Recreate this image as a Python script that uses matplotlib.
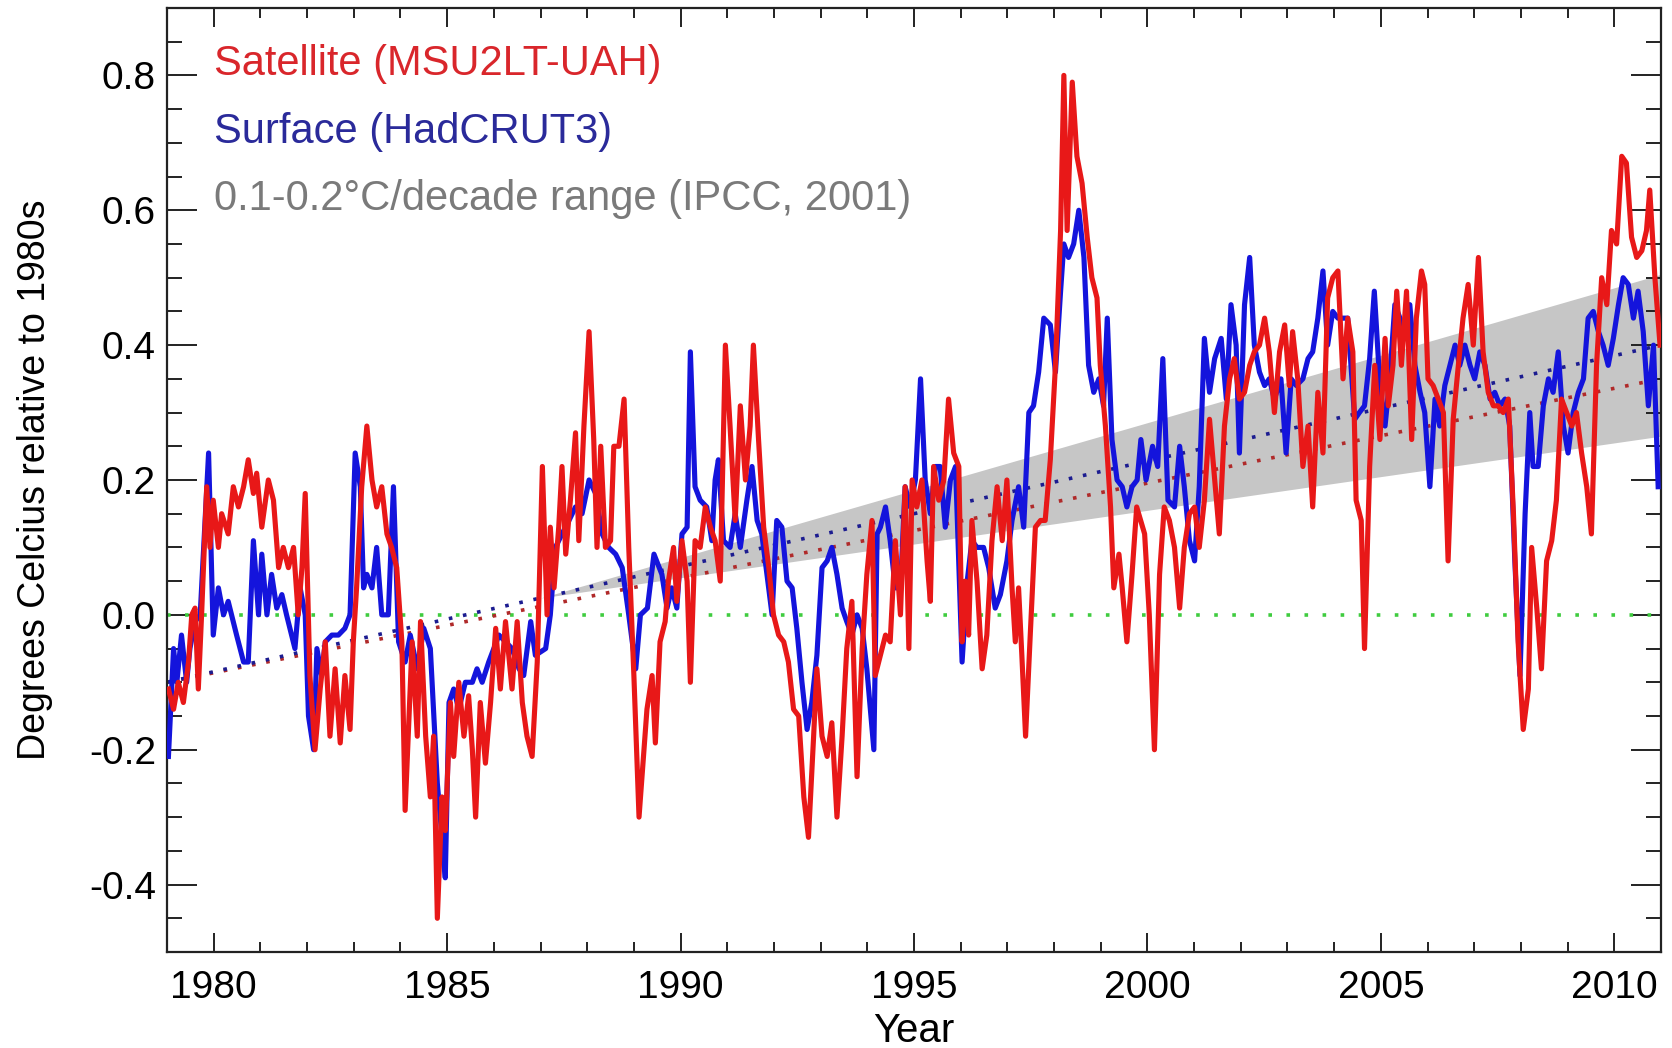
import numpy as np
import matplotlib
matplotlib.use('Agg')
import matplotlib.pyplot as plt
from matplotlib.ticker import MultipleLocator, FormatStrFormatter

# satellite lower troposphere (MSU2LT-UAH)
sat_years = [1979.03, 1979.14, 1979.24, 1979.35, 1979.46, 1979.53, 1979.60, 1979.67, 1979.74, 1979.85,
             1979.92, 1979.99, 1980.10, 1980.17, 1980.31, 1980.42, 1980.53, 1980.64, 1980.74, 1980.85,
             1980.92, 1981.03, 1981.17, 1981.28, 1981.39, 1981.49, 1981.60, 1981.71, 1981.81, 1981.89,
             1981.96, 1982.06, 1982.17, 1982.28, 1982.39, 1982.49, 1982.60, 1982.71, 1982.81, 1982.92,
             1982.99, 1983.06, 1983.17, 1983.28, 1983.39, 1983.49, 1983.60, 1983.71, 1983.81, 1983.92,
             1984.03, 1984.10, 1984.25, 1984.36, 1984.43, 1984.54, 1984.64, 1984.71, 1984.79, 1984.89,
             1984.96, 1985.07, 1985.14, 1985.25, 1985.36, 1985.46, 1985.54, 1985.61, 1985.71, 1985.82,
             1985.93, 1986.04, 1986.14, 1986.25, 1986.39, 1986.50, 1986.61, 1986.71, 1986.82, 1986.93,
             1987.04, 1987.14, 1987.21, 1987.29, 1987.39, 1987.46, 1987.54, 1987.64, 1987.75, 1987.82,
             1987.93, 1988.04, 1988.14, 1988.21, 1988.29, 1988.39, 1988.50, 1988.57, 1988.68, 1988.79,
             1988.89, 1989.00, 1989.11, 1989.28, 1989.39, 1989.46, 1989.56, 1989.67, 1989.74, 1989.85,
             1989.92, 1990.03, 1990.14, 1990.21, 1990.31, 1990.42, 1990.53, 1990.64, 1990.74, 1990.85,
             1990.96, 1991.06, 1991.17, 1991.28, 1991.39, 1991.49, 1991.56, 1991.67, 1991.78, 1991.89,
             1991.99, 1992.10, 1992.21, 1992.31, 1992.42, 1992.53, 1992.64, 1992.74, 1992.85, 1992.92,
             1993.03, 1993.14, 1993.24, 1993.35, 1993.46, 1993.56, 1993.67, 1993.78, 1993.89, 1993.99,
             1994.10, 1994.17, 1994.28, 1994.39, 1994.49, 1994.60, 1994.71, 1994.81, 1994.89, 1994.96,
             1995.06, 1995.17, 1995.28, 1995.35, 1995.42, 1995.53, 1995.64, 1995.74, 1995.85, 1995.96,
             1996.03, 1996.10, 1996.17, 1996.24, 1996.35, 1996.46, 1996.56, 1996.67, 1996.78, 1996.89,
             1996.99, 1997.10, 1997.17, 1997.24, 1997.31, 1997.39, 1997.49, 1997.60, 1997.71, 1997.81,
             1997.92, 1998.03, 1998.14, 1998.21, 1998.28, 1998.39, 1998.49, 1998.60, 1998.71, 1998.81,
             1998.92, 1998.99, 1999.10, 1999.21, 1999.28, 1999.39, 1999.46, 1999.56, 1999.67, 1999.77,
             1999.94, 2000.04, 2000.15, 2000.26, 2000.36, 2000.47, 2000.58, 2000.69, 2000.79, 2000.90,
             2001.01, 2001.11, 2001.22, 2001.33, 2001.44, 2001.54, 2001.65, 2001.76, 2001.86, 2001.97,
             2002.08, 2002.19, 2002.29, 2002.40, 2002.51, 2002.61, 2002.72, 2002.83, 2002.94, 2003.04,
             2003.11, 2003.22, 2003.33, 2003.44, 2003.54, 2003.65, 2003.76, 2003.86, 2003.97, 2004.08,
             2004.19, 2004.29, 2004.40, 2004.47, 2004.58, 2004.65, 2004.76, 2004.87, 2004.98, 2005.09,
             2005.16, 2005.26, 2005.34, 2005.44, 2005.55, 2005.66, 2005.76, 2005.87, 2005.94, 2006.01,
             2006.12, 2006.23, 2006.34, 2006.44, 2006.55, 2006.66, 2006.76, 2006.87, 2006.98, 2007.09,
             2007.19, 2007.30, 2007.41, 2007.51, 2007.62, 2007.73, 2007.84, 2007.94, 2008.05, 2008.16,
             2008.23, 2008.34, 2008.44, 2008.55, 2008.66, 2008.76, 2008.87, 2008.98, 2009.09, 2009.19,
             2009.30, 2009.41, 2009.51, 2009.62, 2009.73, 2009.84, 2009.94, 2010.05, 2010.16, 2010.26,
             2010.37, 2010.48, 2010.59, 2010.69, 2010.76, 2010.87, 2010.98]
sat_anom = [-0.11, -0.14, -0.10, -0.13, -0.07, 0.00, 0.01, -0.11, 0.00, 0.19,
            0.10, 0.17, 0.10, 0.15, 0.12, 0.19, 0.16, 0.19, 0.23, 0.18,
            0.21, 0.13, 0.20, 0.17, 0.07, 0.10, 0.07, 0.10, 0.00, 0.07,
            0.18, -0.09, -0.20, -0.11, -0.04, -0.18, -0.08, -0.19, -0.09, -0.17,
            -0.04, 0.04, 0.19, 0.28, 0.20, 0.16, 0.19, 0.12, 0.10, 0.07,
            -0.04, -0.29, -0.04, -0.18, -0.01, -0.18, -0.27, -0.18, -0.45, -0.27,
            -0.32, -0.13, -0.21, -0.10, -0.18, -0.12, -0.20, -0.30, -0.13, -0.22,
            -0.13, -0.02, -0.11, -0.01, -0.11, -0.01, -0.13, -0.18, -0.21, -0.07,
            0.22, 0.00, 0.13, 0.04, 0.13, 0.22, 0.09, 0.17, 0.27, 0.11,
            0.28, 0.42, 0.26, 0.10, 0.25, 0.10, 0.11, 0.25, 0.25, 0.32,
            0.10, -0.09, -0.30, -0.14, -0.09, -0.19, -0.04, -0.01, 0.05, 0.10,
            0.02, 0.11, 0.05, -0.10, 0.11, 0.10, 0.16, 0.13, 0.11, 0.05,
            0.40, 0.28, 0.14, 0.31, 0.20, 0.28, 0.40, 0.26, 0.13, 0.07,
            0.00, -0.03, -0.04, -0.07, -0.14, -0.15, -0.27, -0.33, -0.18, -0.08,
            -0.18, -0.21, -0.16, -0.30, -0.18, -0.05, 0.02, -0.24, -0.05, 0.06,
            0.14, -0.09, -0.06, -0.03, -0.04, 0.11, 0.00, 0.19, -0.05, 0.20,
            0.16, 0.20, 0.08, 0.02, 0.22, 0.17, 0.20, 0.32, 0.24, 0.22,
            -0.04, 0.05, -0.03, 0.14, 0.05, -0.08, -0.03, 0.11, 0.19, 0.11,
            0.20, 0.04, -0.04, 0.04, -0.06, -0.18, -0.03, 0.13, 0.14, 0.14,
            0.23, 0.37, 0.57, 0.80, 0.57, 0.79, 0.68, 0.64, 0.56, 0.50,
            0.47, 0.37, 0.28, 0.16, 0.04, 0.09, 0.04, -0.04, 0.06, 0.16,
            0.12, 0.00, -0.20, 0.06, 0.16, 0.14, 0.10, 0.01, 0.10, 0.15,
            0.16, 0.10, 0.17, 0.29, 0.20, 0.12, 0.28, 0.35, 0.38, 0.32,
            0.33, 0.37, 0.39, 0.40, 0.44, 0.39, 0.30, 0.39, 0.43, 0.34,
            0.42, 0.35, 0.22, 0.28, 0.16, 0.33, 0.24, 0.47, 0.50, 0.51,
            0.35, 0.44, 0.39, 0.17, 0.14, -0.05, 0.22, 0.37, 0.26, 0.41,
            0.31, 0.37, 0.48, 0.37, 0.48, 0.26, 0.44, 0.51, 0.49, 0.35,
            0.34, 0.32, 0.30, 0.08, 0.29, 0.37, 0.44, 0.49, 0.40, 0.53,
            0.39, 0.33, 0.31, 0.31, 0.30, 0.32, 0.15, -0.04, -0.17, -0.11,
            0.10, 0.01, -0.08, 0.08, 0.11, 0.17, 0.32, 0.30, 0.28, 0.30,
            0.24, 0.19, 0.12, 0.37, 0.50, 0.46, 0.57, 0.55, 0.68, 0.67,
            0.56, 0.53, 0.54, 0.57, 0.63, 0.50, 0.40]

# surface (HadCRUT3)
sfc_years = [1979.03, 1979.14, 1979.21, 1979.31, 1979.42, 1979.49, 1979.60, 1979.71, 1979.89, 1979.99,
             1980.10, 1980.21, 1980.31, 1980.49, 1980.64, 1980.74, 1980.85, 1980.96, 1981.03, 1981.14,
             1981.24, 1981.35, 1981.46, 1981.56, 1981.74, 1981.85, 1981.96, 1982.03, 1982.14, 1982.21,
             1982.31, 1982.39, 1982.53, 1982.67, 1982.81, 1982.92, 1983.03, 1983.14, 1983.21, 1983.28,
             1983.39, 1983.49, 1983.60, 1983.74, 1983.85, 1983.96, 1984.10, 1984.21, 1984.36, 1984.50,
             1984.64, 1984.79, 1984.89, 1984.96, 1985.04, 1985.14, 1985.25, 1985.39, 1985.54, 1985.64,
             1985.75, 1985.89, 1986.00, 1986.11, 1986.25, 1986.39, 1986.54, 1986.64, 1986.79, 1986.89,
             1987.11, 1987.21, 1987.32, 1987.46, 1987.61, 1987.75, 1987.89, 1988.04, 1988.18, 1988.32,
             1988.46, 1988.61, 1988.75, 1988.89, 1989.04, 1989.14, 1989.29, 1989.43, 1989.60, 1989.71,
             1989.81, 1989.92, 1990.03, 1990.14, 1990.21, 1990.31, 1990.42, 1990.56, 1990.67, 1990.74,
             1990.81, 1990.92, 1991.06, 1991.17, 1991.28, 1991.42, 1991.53, 1991.64, 1991.74, 1991.85,
             1991.96, 1992.06, 1992.17, 1992.28, 1992.39, 1992.49, 1992.60, 1992.71, 1992.81, 1992.92,
             1993.03, 1993.14, 1993.24, 1993.35, 1993.46, 1993.56, 1993.67, 1993.78, 1993.89, 1993.99,
             1994.14, 1994.21, 1994.28, 1994.39, 1994.49, 1994.60, 1994.71, 1994.81, 1994.92, 1995.03,
             1995.14, 1995.24, 1995.35, 1995.46, 1995.56, 1995.67, 1995.78, 1995.89, 1996.03, 1996.14,
             1996.24, 1996.35, 1996.49, 1996.60, 1996.74, 1996.85, 1996.99, 1997.10, 1997.24, 1997.35,
             1997.46, 1997.56, 1997.67, 1997.78, 1997.92, 1998.03, 1998.14, 1998.21, 1998.31, 1998.42,
             1998.53, 1998.64, 1998.74, 1998.85, 1998.96, 1999.06, 1999.14, 1999.24, 1999.35, 1999.46,
             1999.56, 1999.67, 1999.78, 1999.86, 1999.97, 2000.11, 2000.22, 2000.33, 2000.44, 2000.58,
             2000.69, 2000.79, 2000.90, 2001.01, 2001.11, 2001.22, 2001.33, 2001.44, 2001.58, 2001.69,
             2001.79, 2001.90, 2001.97, 2002.08, 2002.19, 2002.29, 2002.40, 2002.51, 2002.61, 2002.72,
             2002.86, 2002.97, 2003.08, 2003.19, 2003.33, 2003.44, 2003.54, 2003.65, 2003.76, 2003.86,
             2003.97, 2004.08, 2004.19, 2004.29, 2004.44, 2004.54, 2004.65, 2004.76, 2004.86, 2004.98,
             2005.09, 2005.19, 2005.30, 2005.41, 2005.51, 2005.62, 2005.73, 2005.84, 2005.94, 2006.05,
             2006.16, 2006.26, 2006.37, 2006.48, 2006.59, 2006.69, 2006.80, 2006.91, 2007.01, 2007.12,
             2007.23, 2007.34, 2007.44, 2007.55, 2007.66, 2007.76, 2007.87, 2007.98, 2008.09, 2008.19,
             2008.26, 2008.37, 2008.48, 2008.59, 2008.69, 2008.80, 2008.91, 2009.01, 2009.12, 2009.23,
             2009.34, 2009.44, 2009.55, 2009.66, 2009.76, 2009.87, 2009.98, 2010.09, 2010.19, 2010.30,
             2010.41, 2010.51, 2010.62, 2010.73, 2010.84, 2010.94]
sfc_anom = [-0.21, -0.05, -0.10, -0.03, -0.10, -0.05, -0.01, 0.00, 0.24, -0.03,
            0.04, 0.00, 0.02, -0.03, -0.07, -0.07, 0.11, 0.00, 0.09, 0.00,
            0.06, 0.01, 0.03, 0.00, -0.05, 0.04, 0.00, -0.15, -0.20, -0.05,
            -0.09, -0.04, -0.03, -0.03, -0.02, 0.00, 0.24, 0.19, 0.04, 0.06,
            0.04, 0.10, 0.00, 0.00, 0.19, -0.04, -0.07, -0.03, -0.08, -0.02,
            -0.05, -0.25, -0.33, -0.39, -0.13, -0.11, -0.14, -0.10, -0.10, -0.08,
            -0.10, -0.07, -0.05, -0.03, -0.04, -0.05, -0.08, -0.09, -0.01, -0.06,
            -0.05, 0.00, 0.10, 0.12, 0.14, 0.16, 0.15, 0.20, 0.18, 0.12,
            0.10, 0.09, 0.07, 0.00, -0.08, 0.00, 0.01, 0.09, 0.06, 0.01,
            0.04, 0.01, 0.12, 0.13, 0.39, 0.19, 0.17, 0.16, 0.11, 0.20,
            0.23, 0.11, 0.10, 0.15, 0.10, 0.17, 0.22, 0.14, 0.12, 0.06,
            0.00, 0.14, 0.13, 0.05, 0.04, -0.02, -0.10, -0.17, -0.13, -0.06,
            0.07, 0.08, 0.10, 0.06, 0.01, -0.01, -0.03, 0.00, -0.02, -0.08,
            -0.20, 0.12, 0.13, 0.16, 0.11, 0.04, 0.04, 0.19, 0.16, 0.20,
            0.35, 0.20, 0.15, 0.22, 0.22, 0.13, 0.20, 0.22, -0.07, 0.05,
            0.11, 0.10, 0.10, 0.07, 0.01, 0.03, 0.08, 0.14, 0.19, 0.13,
            0.30, 0.31, 0.36, 0.44, 0.43, 0.36, 0.48, 0.55, 0.53, 0.55,
            0.60, 0.53, 0.37, 0.33, 0.35, 0.31, 0.44, 0.26, 0.20, 0.19,
            0.16, 0.19, 0.20, 0.26, 0.20, 0.25, 0.22, 0.38, 0.17, 0.16,
            0.25, 0.19, 0.11, 0.08, 0.19, 0.41, 0.33, 0.38, 0.41, 0.32,
            0.46, 0.40, 0.24, 0.46, 0.53, 0.40, 0.36, 0.34, 0.35, 0.32,
            0.35, 0.24, 0.35, 0.34, 0.35, 0.38, 0.39, 0.44, 0.51, 0.40,
            0.45, 0.44, 0.44, 0.44, 0.29, 0.30, 0.31, 0.38, 0.48, 0.34,
            0.28, 0.35, 0.46, 0.44, 0.41, 0.46, 0.37, 0.33, 0.30, 0.19,
            0.32, 0.28, 0.34, 0.37, 0.40, 0.37, 0.40, 0.37, 0.35, 0.39,
            0.37, 0.32, 0.33, 0.31, 0.32, 0.28, 0.08, -0.09, 0.15, 0.30,
            0.22, 0.22, 0.31, 0.35, 0.33, 0.39, 0.28, 0.24, 0.30, 0.33,
            0.35, 0.44, 0.45, 0.42, 0.40, 0.37, 0.41, 0.46, 0.50, 0.49,
            0.44, 0.48, 0.42, 0.31, 0.40, 0.19]

# dotted linear trends (end points)
trend_years = [1979.0, 2011.0]
sat_trend = [-0.10, 0.35]
sfc_trend = [-0.10, 0.40]

# IPCC (2001) 0.1-0.2 C/decade range, starting from the trend in 1987
ipcc_start = 1987.0
ipcc_base = 0.025
ipcc_rates = [0.1, 0.2]  # degC per decade
ipcc_end = 2011.0

x_ticks = [1980, 1985, 1990, 1995, 2000, 2005, 2010]
y_ticks = [-0.4, -0.2, 0.0, 0.2, 0.4, 0.6, 0.8]

legend_texts = ['Satellite (MSU2LT-UAH)', 'Surface (HadCRUT3)',
                '0.1-0.2\u00b0C/decade range (IPCC, 2001)']
legend_colors = ['#d9262b', '#2a2a9a', '#7a7a7a']
legend_y = [0.8, 0.7, 0.6]

plt.rcParams['font.family'] = ['Liberation Sans', 'DejaVu Sans']
plt.rcParams['axes.unicode_minus'] = False

fig = plt.figure(figsize=(16.72, 10.48), dpi=100)
ax = fig.add_axes([0.0999, 0.0916, 0.8935, 0.9008])

# gray wedge
wx = np.array([ipcc_start, ipcc_end])
lo = ipcc_base + ipcc_rates[0] * (wx - ipcc_start) / 10.0
hi = ipcc_base + ipcc_rates[1] * (wx - ipcc_start) / 10.0
ax.fill_between(wx, lo, hi, color='#c6c6c6', lw=0, zorder=1)

ax.axhline(0.0, color='#3fcc3f', ls=(0, (1, 4)), lw=2.6, zorder=2)
ax.plot(trend_years, sat_trend, color='#b02a2a', ls=(0, (1, 3)), lw=2.6, zorder=2)
ax.plot(trend_years, sfc_trend, color='#1c1c90', ls=(0, (1, 3)), lw=2.6, zorder=2)

ax.plot(sfc_years, sfc_anom, color='#1414dc', lw=3.7, zorder=3)
ax.plot(sat_years, sat_anom, color='#e81818', lw=3.7, zorder=4)

for txt, col, yv in zip(legend_texts, legend_colors, legend_y):
    ax.text(1980.0, yv, txt, color=col, fontsize=30, va='baseline', ha='left', zorder=5)

ax.set_xlim(1979.0, 2011.0)
ax.set_ylim(-0.5, 0.9)
ax.set_xticks(x_ticks)
ax.set_yticks(y_ticks)
ax.xaxis.set_minor_locator(MultipleLocator(1))
ax.yaxis.set_minor_locator(MultipleLocator(0.05))
ax.yaxis.set_major_formatter(FormatStrFormatter('%.1f'))

ax.tick_params(which='both', direction='in', top=True, right=True,
               width=1.4, color='#222222', labelsize=28)
ax.tick_params(axis='x', which='major', length=14, pad=13)
ax.tick_params(axis='x', which='minor', length=7)
ax.tick_params(axis='y', which='major', length=21.5, pad=8)
ax.tick_params(axis='y', which='minor', length=10.8)

for s in ax.spines.values():
    s.set_linewidth(1.6)
    s.set_color('#222222')

ax.set_xlabel('Year', fontsize=29)
ax.set_ylabel('Degrees Celcius relative to 1980s', fontsize=27)
ax.xaxis.set_label_coords(0.5, -0.064)
ax.yaxis.set_label_coords(-0.076, 0.5)

fig.savefig('out.png', dpi=100)
